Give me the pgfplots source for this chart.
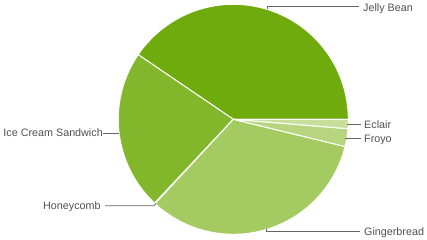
\documentclass[border=0pt]{standalone}
\usepackage{fontspec}
\setmainfont{Liberation Sans}
\usepackage{pgfplots}
\pgfplotsset{compat=1.18}
\definecolor{cJB}{HTML}{6FAB0C}
\definecolor{cICS}{HTML}{82B62B}
\definecolor{cHC}{HTML}{93C046}
\definecolor{cGB}{HTML}{A4CB62}
\definecolor{cFR}{HTML}{B6D57E}
\definecolor{cEC}{HTML}{C8DF9B}
\definecolor{txt}{HTML}{505050}
\definecolor{lead}{HTML}{666666}
\newcommand\cx{233.3}
\newcommand\cy{119.3}
\newcommand\rr{115}
% shares (percent): Jelly Bean 40.5, ICS 22.5, Honeycomb 0.1, Gingerbread 33.1, Froyo 2.5, Eclair 1.3
\newcommand\slice[3]{%
  \addplot[fill=#3, draw=white, line width=1pt, domain={(#1)*3.6}:{(#2)*3.6}, samples=90, variable=\t]
    ({\cx+\rr*cos(t)},{\cy-\rr*sin(t)}) -- (axis cs:\cx,\cy) -- cycle;}
\begin{document}
\begin{tikzpicture}
\begin{axis}[scale only axis, width=427bp, height=240bp,
  xmin=0, xmax=427, ymin=0, ymax=240, y dir=reverse,
  hide axis, clip=false]
\slice{0}{40.5}{cJB}
\slice{40.5}{63.0}{cICS}
\slice{63.0}{63.1}{cHC}
\slice{63.1}{96.2}{cGB}
\slice{96.2}{98.7}{cFR}
\slice{98.7}{100}{cEC}
% leader lines
\draw[lead, line width=0.8pt] (axis cs:267,9) -- (axis cs:267,6.7) -- (axis cs:359,6.7);
\draw[lead, line width=0.8pt] (axis cs:347,124.7) -- (axis cs:361,124.7);
\draw[lead, line width=0.8pt] (axis cs:345,138.7) -- (axis cs:361,138.7);
\draw[lead, line width=0.8pt] (axis cs:103,133.3) -- (axis cs:118.5,133.3);
\draw[lead, line width=0.8pt] (axis cs:105,205.7) -- (axis cs:154,205.7) -- (axis cs:156,203.5);
\draw[lead, line width=0.8pt] (axis cs:266.7,228.5) -- (axis cs:266.7,231.7) -- (axis cs:360,231.7);
% labels
\begin{scope}[every node/.style={inner sep=0pt, text=txt, font=\fontsize{10.8}{12}\selectfont}]
\node[anchor=base west] at (axis cs:363,11) {Jelly Bean};
\node[anchor=base west] at (axis cs:364,128.7) {Eclair};
\node[anchor=base west] at (axis cs:364,142.7) {Froyo};
\node[anchor=base west] at (axis cs:3.3,136.7) {Ice Cream Sandwich};
\node[anchor=base west] at (axis cs:43,209) {Honeycomb};
\node[anchor=base west] at (axis cs:364,235.7) {Gingerbread};
\end{scope}
\end{axis}
\pgfresetboundingbox
\useasboundingbox (0,0) rectangle (427bp,240bp);
\end{tikzpicture}
\end{document}
